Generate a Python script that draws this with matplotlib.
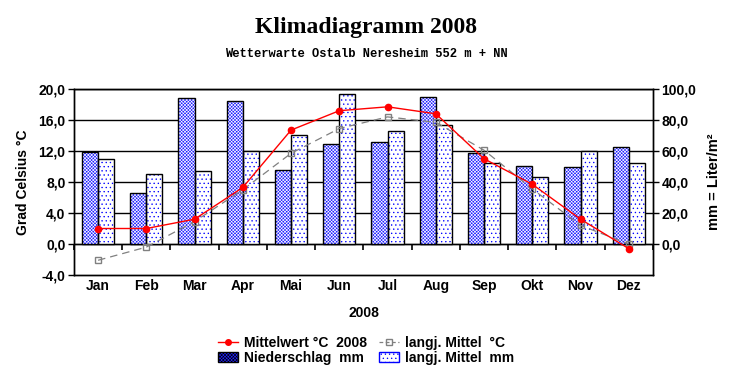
import matplotlib
matplotlib.use("Agg")
import matplotlib.pyplot as plt
import numpy as np
from matplotlib.lines import Line2D
from matplotlib.patches import Patch

months = ["Jan", "Feb", "Mar", "Apr", "Mai", "Jun", "Jul", "Aug", "Sep", "Okt", "Nov", "Dez"]
temp_2008 = [2.0, 2.0, 3.2, 7.3, 14.7, 17.2, 17.7, 16.8, 11.0, 7.7, 3.2, -0.6]
temp_mean = [-2.1, -0.4, 2.9, 7.0, 11.7, 14.9, 16.4, 15.7, 12.1, 7.1, 2.4, 0.0]
precip_2008 = [59.6, 33.0, 94.4, 92.4, 48.0, 64.6, 65.9, 95.0, 58.8, 50.4, 49.8, 62.7]
precip_mean = [54.9, 45.2, 47.4, 60.3, 70.5, 97.0, 73.0, 76.9, 52.3, 43.3, 60.3, 52.3]
left_ticks = [-4, 0, 4, 8, 12, 16, 20]
right_ticks = [0, 20, 40, 60, 80, 100]

NIED_FACE = "#2020ff"
NIED_HATCH = "xxxxxxxxxx"
MEAN_HATCH = "...."

plt.rcParams['hatch.linewidth'] = 0.45
fig = plt.figure(figsize=(7.32, 3.80), dpi=100)
ax2 = fig.add_axes([0.101, 0.2763, 0.791, 0.4895])
ax = ax2.twinx()
ax.set_zorder(ax2.get_zorder() + 1)
ax.patch.set_visible(False)

x = np.arange(len(months))
w = 1 / 3

# bars on right (mm) axis
ax2.bar(x - w / 2, precip_2008, w, facecolor=NIED_FACE, edgecolor="white", hatch=NIED_HATCH, linewidth=0, zorder=2)
ax2.bar(x - w / 2, precip_2008, w, facecolor="none", edgecolor="black", linewidth=1, zorder=3)
ax2.bar(x + w / 2, precip_mean, w, facecolor="white", edgecolor="#0000ff", hatch=MEAN_HATCH, linewidth=0, zorder=2)
ax2.bar(x + w / 2, precip_mean, w, facecolor="none", edgecolor="black", linewidth=1, zorder=3)
ax2.set_ylim(-20, 100)
ax2.set_yticks(right_ticks)
ax2.grid(axis="y", color="black", linewidth=1)
ax2.set_axisbelow(True)
ax2.yaxis.tick_right()
ax2.yaxis.set_label_position("right")
ax2.set_yticklabels([f"{v:.1f}".replace(".", ",") for v in right_ticks],
                    fontsize=10, fontweight="bold", family="Liberation Sans")
ax2.set_ylabel("mm = Liter/m²", fontsize=10.5, fontweight="bold", family="Liberation Sans", labelpad=8)
ax2.axhline(0, color="black", linewidth=1, zorder=1.5)
ax2.set_xlim(-0.5, len(months) - 0.5)
ax2.set_xticks(x)
ax2.set_xticklabels(months, fontsize=10, fontweight="bold", family="Liberation Sans")
ax2.tick_params(axis="x", length=0, pad=3)
ax2.tick_params(axis="y", direction="out", length=4, width=1, pad=2)
ax2.set_xlabel("2008", fontsize=10, fontweight="bold", family="Liberation Sans", labelpad=9)

# boundary ticks on zero line
sec = ax2.secondary_xaxis(20 / 120)
sec.set_xticks(np.arange(len(months) + 1) - 0.5)
sec.set_xticklabels([])
sec.tick_params(direction="out", length=4, width=1.2)
sec.spines["bottom"].set_visible(False)

# lines on left (°C) axis
ax.plot(x, temp_2008, color="red", linewidth=1, marker="o", markersize=4.5, zorder=5)
ax.plot(x, temp_mean, color="#808080", linewidth=0.9, linestyle=(0, (6, 4)), marker="s",
        markersize=4, markerfacecolor="none", markeredgecolor="#808080", zorder=4)
ax.set_ylim(-4, 20)
ax.set_yticks(left_ticks)
ax.yaxis.tick_left()
ax.yaxis.set_label_position("left")
ax.set_yticklabels([f"{v:.1f}".replace(".", ",") for v in left_ticks],
                   fontsize=10, fontweight="bold", family="Liberation Sans")
ax.tick_params(axis="y", direction="out", length=4, width=1, pad=2)
ax.set_ylabel("Grad Celsius °C", fontsize=10, fontweight="bold", family="Liberation Sans", labelpad=6)

for a in (ax, ax2):
    for s in a.spines.values():
        s.set_linewidth(1)
        s.set_color("black")

fig.text(0.5, 0.928, "Klimadiagramm 2008", ha="center", va="center",
         fontsize=17, fontweight="bold", family="Liberation Serif")
fig.text(0.5, 0.858, "Wetterwarte Ostalb Neresheim 552 m + NN", ha="center", va="center",
         fontsize=8.7, fontweight="bold", family="Liberation Mono")

handles = [
    Line2D([], [], color="red", linewidth=1, marker="o", markersize=4),
    Patch(facecolor=NIED_FACE, edgecolor="black", hatch=NIED_HATCH),
    Line2D([], [], color="#808080", linewidth=0.9, linestyle=(0, (3, 2)), marker="s",
           markersize=4, markerfacecolor="none"),
    Patch(facecolor="white", edgecolor="#0000ff", hatch=MEAN_HATCH),
]
labels = ["Mittelwert °C  2008", "Niederschlag  mm", "langj. Mittel  °C", "langj. Mittel  mm"]
leg = fig.legend(handles, labels, loc="center", bbox_to_anchor=(0.5, 0.078), ncol=2, frameon=False,
                 prop={"family": "Liberation Sans", "weight": "bold", "size": 10},
                 handlelength=1.45, handletextpad=0.4, columnspacing=0.9, labelspacing=0.1)

fig.savefig("out.png", dpi=100)
